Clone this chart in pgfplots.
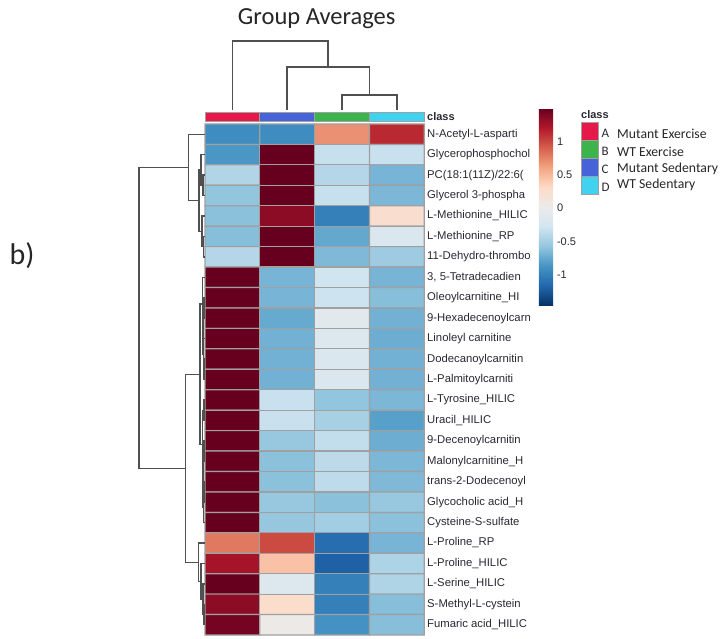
\documentclass[border=0pt]{standalone}
\usepackage{fontspec}
\setmainfont{Liberation Sans}
\newfontfamily\calibri{Carlito}
\usepackage{pgfplots}
\pgfplotsset{compat=1.18}

\definecolor{grpA}{RGB}{230,25,75}
\definecolor{grpB}{RGB}{60,180,75}
\definecolor{grpC}{RGB}{70,100,215}
\definecolor{grpD}{RGB}{65,210,240}
\definecolor{cellline}{RGB}{160,160,160}
\definecolor{dendro}{RGB}{80,80,80}
\definecolor{labeltext}{RGB}{40,40,50}

\begin{document}
\begin{tikzpicture}
\begin{axis}[
  width=721pt, height=639pt, scale only axis,
  xmin=0, xmax=721, ymin=0, ymax=639, y dir=reverse,
  hide axis, clip=false,
  colormap={rdbu}{rgb255=(5,48,97) rgb255=(33,102,172) rgb255=(67,147,195)
    rgb255=(146,197,222) rgb255=(209,229,240) rgb255=(235,235,235)
    rgb255=(253,219,199) rgb255=(244,165,130) rgb255=(214,96,77)
    rgb255=(178,24,43) rgb255=(103,0,31)},
  point meta min=-1.47, point meta max=1.5,
  colorbar,
  colorbar style={
    at={(parent axis.north west)}, anchor=north west,
    xshift=530.3pt, yshift=-108.3pt,
    scale only axis, width=14.7pt, height=197.7pt,
    ytick={-1,-0.5,0,0.5,1},
    axis line style={draw=none},
    major tick length=0pt,
    yticklabel style={font=\fontsize{11}{12}\selectfont, text=labeltext, xshift=0pt},
    /pgf/number format/assume math mode=true,
  },
]
\path (rel axis cs:0,0) rectangle (rel axis cs:1,1);

% heatmap: column centres A, C, B, D; one row per metabolite
\addplot[matrix plot*, mesh/cols=4, mesh/ordering=x varies, point meta=explicit,
  draw=cellline, line width=1.2pt] table[meta=v] {
x y v
232.4 134.2 -0.92
287.2 134.2 -0.92
342.0 134.2 0.70
396.8 134.2 1.14
232.4 154.7 -0.85
287.2 154.7 1.50
342.0 154.7 -0.33
396.8 154.7 -0.32
232.4 175.1 -0.43
287.2 175.1 1.50
342.0 175.1 -0.42
396.8 175.1 -0.68
232.4 195.5 -0.58
287.2 195.5 1.50
342.0 195.5 -0.33
396.8 195.5 -0.66
232.4 216.0 -0.60
287.2 216.0 1.35
342.0 216.0 -1.00
396.8 216.0 0.25
232.4 236.4 -0.62
287.2 236.4 1.50
342.0 236.4 -0.75
396.8 236.4 -0.18
232.4 256.9 -0.42
287.2 256.9 1.50
342.0 256.9 -0.65
396.8 256.9 -0.52
232.4 277.3 1.50
287.2 277.3 -0.68
342.0 277.3 -0.28
396.8 277.3 -0.68
232.4 297.7 1.50
287.2 297.7 -0.68
342.0 297.7 -0.30
396.8 297.7 -0.62
232.4 318.2 1.50
287.2 318.2 -0.74
342.0 318.2 -0.10
396.8 318.2 -0.70
232.4 338.6 1.50
287.2 338.6 -0.70
342.0 338.6 -0.14
396.8 338.6 -0.72
232.4 359.1 1.50
287.2 359.1 -0.70
342.0 359.1 -0.18
396.8 359.1 -0.70
232.4 379.5 1.50
287.2 379.5 -0.70
342.0 379.5 -0.18
396.8 379.5 -0.70
232.4 400.0 1.50
287.2 400.0 -0.32
342.0 400.0 -0.58
396.8 400.0 -0.66
232.4 420.4 1.50
287.2 420.4 -0.32
342.0 420.4 -0.48
396.8 420.4 -0.80
232.4 440.8 1.50
287.2 440.8 -0.55
342.0 440.8 -0.35
396.8 440.8 -0.72
232.4 461.3 1.50
287.2 461.3 -0.60
342.0 461.3 -0.38
396.8 461.3 -0.66
232.4 481.7 1.50
287.2 481.7 -0.60
342.0 481.7 -0.37
396.8 481.7 -0.65
232.4 502.2 1.50
287.2 502.2 -0.55
342.0 502.2 -0.60
396.8 502.2 -0.55
232.4 522.6 1.50
287.2 522.6 -0.56
342.0 522.6 -0.50
396.8 522.6 -0.60
232.4 543.0 0.80
287.2 543.0 1.00
342.0 543.0 -1.12
396.8 543.0 -0.68
232.4 563.5 1.25
287.2 563.5 0.45
342.0 563.5 -1.20
396.8 563.5 -0.45
232.4 583.9 1.50
287.2 583.9 -0.15
342.0 583.9 -1.00
396.8 583.9 -0.44
232.4 604.3 1.35
287.2 604.3 0.28
342.0 604.3 -1.00
396.8 604.3 -0.62
232.4 624.8 1.45
287.2 624.8 0.05
342.0 624.8 -0.88
396.8 624.8 -0.62
};

% class annotation bar
\addplot[fill=grpA, draw=cellline, line width=1pt] coordinates {(205,112.3) (259.8,112.3) (259.8,121.7) (205,121.7) (205,112.3)};
\addplot[fill=grpC, draw=cellline, line width=1pt] coordinates {(259.8,112.3) (314.6,112.3) (314.6,121.7) (259.8,121.7) (259.8,112.3)};
\addplot[fill=grpB, draw=cellline, line width=1pt] coordinates {(314.6,112.3) (369.4,112.3) (369.4,121.7) (314.6,121.7) (314.6,112.3)};
\addplot[fill=grpD, draw=cellline, line width=1pt] coordinates {(369.4,112.3) (424.2,112.3) (424.2,121.7) (369.4,121.7) (369.4,112.3)};

% column dendrogram
\addplot[dendro, line width=1.8pt] coordinates {(342.0,110) (342.0,95) (396.8,95) (396.8,110)};
\addplot[dendro, line width=1.8pt] coordinates {(287.2,110) (287.2,66.7) (369.4,66.7) (369.4,95)};
\addplot[dendro, line width=1.8pt] coordinates {(232.4,110) (232.4,40.7) (328.3,40.7) (328.3,66.7)};

% row dendrogram
\pgfplotsset{rowdend/.style={dendro, line width=1.3pt}}
\addplot[rowdend] coordinates {(204.5,175.1) (203,175.1) (203,195.5) (204.5,195.5)};
\addplot[rowdend] coordinates {(204.5,154.7) (201,154.7) (201,185.3) (203,185.3)};
\addplot[rowdend] coordinates {(204.5,236.4) (203.5,236.4) (203.5,256.9) (204.5,256.9)};
\addplot[rowdend] coordinates {(204.5,216.0) (202,216.0) (202,246.65) (203.5,246.65)};
\addplot[rowdend] coordinates {(201,170.0) (199,170.0) (199,231.3) (202,231.3)};
\addplot[rowdend] coordinates {(204.5,134.2) (188.3,134.2) (188.3,200.65) (199,200.65)};
\addplot[rowdend] coordinates {(204.5,297.7) (204,297.7) (204,318.2) (204.5,318.2)};
\addplot[rowdend] coordinates {(204.5,359.1) (204,359.1) (204,379.5) (204.5,379.5)};
\addplot[rowdend] coordinates {(204.5,338.6) (203.5,338.6) (203.5,369.3) (204,369.3)};
\addplot[rowdend] coordinates {(204,307.95) (203,307.95) (203,353.95) (203.5,353.95)};
\addplot[rowdend] coordinates {(204.5,277.3) (202.5,277.3) (202.5,330.95) (203,330.95)};
\addplot[rowdend] coordinates {(204.5,400.0) (204,400.0) (204,420.4) (204.5,420.4)};
\addplot[rowdend] coordinates {(204.5,440.8) (204,440.8) (204,461.3) (204.5,461.3)};
\addplot[rowdend] coordinates {(204.5,481.7) (204.2,481.7) (204.2,502.2) (204.5,502.2)};
\addplot[rowdend] coordinates {(204.2,491.95) (203.5,491.95) (203.5,522.6) (204.5,522.6)};
\addplot[rowdend] coordinates {(204,451.05) (203,451.05) (203,507.3) (203.5,507.3)};
\addplot[rowdend] coordinates {(204,410.2) (202.5,410.2) (202.5,479.2) (203,479.2)};
\addplot[rowdend] coordinates {(202.5,304.1) (200,304.1) (200,444.7) (202.5,444.7)};
\addplot[rowdend] coordinates {(204.5,604.3) (204,604.3) (204,624.8) (204.5,624.8)};
\addplot[rowdend] coordinates {(204.5,583.9) (203,583.9) (203,614.55) (204,614.55)};
\addplot[rowdend] coordinates {(204.5,563.5) (201,563.5) (201,599.2) (203,599.2)};
\addplot[rowdend] coordinates {(204.5,543.0) (198.3,543.0) (198.3,581.35) (201,581.35)};
\addplot[rowdend] coordinates {(200,374.4) (185.7,374.4) (185.7,562.2) (198.3,562.2)};
\addplot[rowdend] coordinates {(188.3,167.4) (139,167.4) (139,468.3) (185.7,468.3)};

% legend swatches
\addplot[fill=grpA, draw=cellline, line width=1pt] coordinates {(581,123) (598,123) (598,141) (581,141) (581,123)};
\addplot[fill=grpB, draw=cellline, line width=1pt] coordinates {(581,141) (598,141) (598,159) (581,159) (581,141)};
\addplot[fill=grpC, draw=cellline, line width=1pt] coordinates {(581,159) (598,159) (598,177) (581,177) (581,159)};
\addplot[fill=grpD, draw=cellline, line width=1pt] coordinates {(581,177) (598,177) (598,195) (581,195) (581,177)};

% texts
\node[font=\calibri\fontsize{24.5}{26}\selectfont, text=black!85] at (axis cs:316.7,18.5) {Group Averages};
\node[font=\calibri\fontsize{30}{32}\selectfont, text=black!85] at (axis cs:22,256) {b)};

\begin{scope}[every node/.style={anchor=west, inner sep=0pt, text=labeltext, font=\fontsize{11.3}{12}\selectfont}]
\node[font=\bfseries\fontsize{11}{12}\selectfont] at (axis cs:427,117) {class};
\node at (axis cs:427,134.2) {N-Acetyl-L-asparti};
\node at (axis cs:427,154.7) {Glycerophosphochol};
\node at (axis cs:427,175.1) {PC(18:1(11Z)/22:6(};
\node at (axis cs:427,195.5) {Glycerol 3-phospha};
\node at (axis cs:427,216.0) {L-Methionine\_HILIC};
\node at (axis cs:427,236.4) {L-Methionine\_RP};
\node at (axis cs:427,256.9) {11-Dehydro-thrombo};
\node at (axis cs:427,277.3) {3, 5-Tetradecadien};
\node at (axis cs:427,297.7) {Oleoylcarnitine\_HI};
\node at (axis cs:427,318.2) {9-Hexadecenoylcarn};
\node at (axis cs:427,338.6) {Linoleyl carnitine};
\node at (axis cs:427,359.1) {Dodecanoylcarnitin};
\node at (axis cs:427,379.5) {L-Palmitoylcarniti};
\node at (axis cs:427,400.0) {L-Tyrosine\_HILIC};
\node at (axis cs:427,420.4) {Uracil\_HILIC};
\node at (axis cs:427,440.8) {9-Decenoylcarnitin};
\node at (axis cs:427,461.3) {Malonylcarnitine\_H};
\node at (axis cs:427,481.7) {trans-2-Dodecenoyl};
\node at (axis cs:427,502.2) {Glycocholic acid\_H};
\node at (axis cs:427,522.6) {Cysteine-S-sulfate};
\node at (axis cs:427,543.0) {L-Proline\_RP};
\node at (axis cs:427,563.5) {L-Proline\_HILIC};
\node at (axis cs:427,583.9) {L-Serine\_HILIC};
\node at (axis cs:427,604.3) {S-Methyl-L-cystein};
\node at (axis cs:427,624.8) {Fumaric acid\_HILIC};

\node[font=\bfseries\fontsize{11}{12}\selectfont] at (axis cs:581,115) {class};
\node[font=\calibri\fontsize{13}{14}\selectfont] at (axis cs:601.5,133) {A};
\node[font=\calibri\fontsize{13}{14}\selectfont] at (axis cs:601.5,151) {B};
\node[font=\calibri\fontsize{13}{14}\selectfont] at (axis cs:601.5,169) {C};
\node[font=\calibri\fontsize{13}{14}\selectfont] at (axis cs:601.5,187) {D};
\node[font=\calibri\fontsize{13.7}{15}\selectfont, text=black!85] at (axis cs:617,134) {Mutant Exercise};
\node[font=\calibri\fontsize{13.7}{15}\selectfont, text=black!85] at (axis cs:617,151.5) {WT Exercise};
\node[font=\calibri\fontsize{13.7}{15}\selectfont, text=black!85] at (axis cs:617,168.5) {Mutant Sedentary};
\node[font=\calibri\fontsize{13.7}{15}\selectfont, text=black!85] at (axis cs:617,184.5) {WT Sedentary};
\end{scope}
\end{axis}
\end{tikzpicture}
\end{document}
